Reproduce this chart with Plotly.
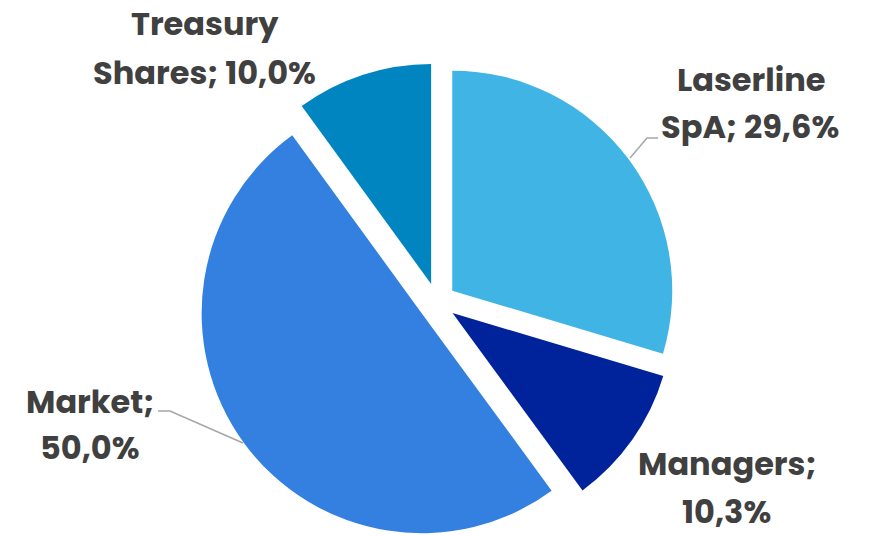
import plotly.graph_objects as go

# ---- data ----
labels = ["Laserline SpA", "Managers", "Market", "Treasury Shares"]
values = [29.6, 10.3, 50.0, 10.0]
colors = ["#41B4E6", "#00239B", "#3380E0", "#0085C0"]

W, H = 871, 536
OFF = 8  # page body margin offset (screen px -> figure px)

def px(x):
    return (x - OFF) / W

def py(y):
    return 1 - (y - OFF) / H

# pie box (screen px): centre (437, 302), half size 239
fig = go.Figure(go.Pie(
    labels=labels,
    values=values,
    sort=False,
    direction="clockwise",
    rotation=0,
    pull=[0.0864] * len(values),
    marker=dict(colors=colors, line=dict(width=0)),
    textinfo="none",
    hoverinfo="label+percent",
    showlegend=False,
    domain=dict(x=[px(437 - 239), px(437 + 239)], y=[py(302 + 239), py(302 - 239)]),
))

# label text built from data: "Name; 29,6%" split after first word
texts = []
for lab, v in zip(labels, values):
    full = f"{lab}; {v:.1f}".replace(".", ",") + "%"
    first, rest = full.split(" ", 1)
    texts.append((first, rest))

# label placement (centre of each text line, screen pixels)
label_pos = [
    ((751, 80), (750, 127)),   # Laserline
    ((727, 463), (726, 511)),  # Managers
    ((90, 401), (90, 447)),    # Market
    ((205, 24), (204, 72)),    # Treasury
]

annotations = []
for (l1, l2), ((x1, y1), (x2, y2)) in zip(texts, label_pos):
    for t, x, y in ((l1, x1, y1), (l2, x2, y2)):
        annotations.append(dict(
            text=f"<b>{t}</b>", x=px(x), y=py(y), xref="paper", yref="paper",
            xanchor="center", yanchor="middle", showarrow=False,
            font=dict(family="Poppins, Inter, Roboto, sans-serif", size=32, color="#404040"),
        ))

# leader lines
leader_color = "#A6A6A6"
shapes = [
    dict(type="path", xref="paper", yref="paper",
         path=f"M {px(630)} {py(158)} L {px(647)} {py(138)} L {px(658)} {py(138)}",
         line=dict(color=leader_color, width=1.5)),
    dict(type="path", xref="paper", yref="paper",
         path=f"M {px(158)} {py(411)} L {px(170)} {py(411)} L {px(243)} {py(443)}",
         line=dict(color=leader_color, width=1.5)),
]

fig.update_layout(
    width=W, height=H,
    margin=dict(l=0, r=0, t=0, b=0),
    paper_bgcolor="white", plot_bgcolor="white",
    annotations=annotations,
    shapes=shapes,
)

fig.write_html("out.html")
